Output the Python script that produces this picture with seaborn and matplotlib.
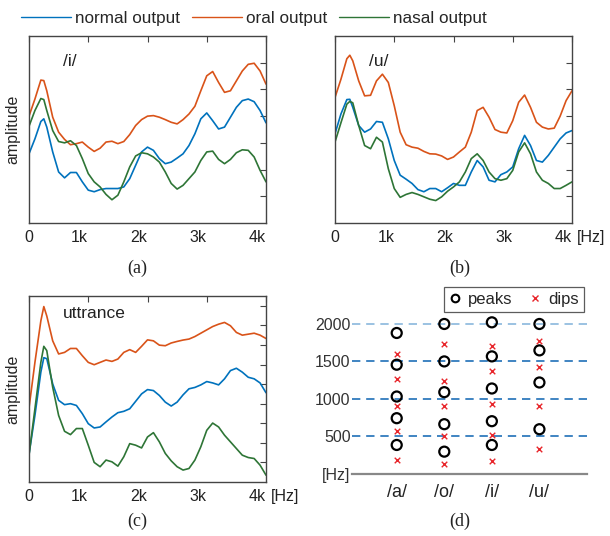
import numpy as np
import pandas as pd
import matplotlib
matplotlib.use("Agg")
import matplotlib.pyplot as plt
from matplotlib.lines import Line2D
import seaborn as sns

sns.set_style("white")
plt.rcParams['font.family'] = ['Liberation Sans', 'DejaVu Sans']

freq = [0, 100, 200, 250, 300, 400, 500, 600, 700, 800, 900, 1000, 1100, 1200, 1300,
        1400, 1500, 1600, 1700, 1800, 1900, 2000, 2100, 2200, 2300, 2400, 2500, 2600,
        2700, 2800, 2900, 3000, 3100, 3200, 3300, 3400, 3500, 3600, 3700, 3800, 3900, 4000]

# panel (a) /i/
i_normal = [2.59, 3.15, 3.80, 3.90, 3.59, 2.66, 1.91, 1.69, 1.89, 1.89, 1.54, 1.23, 1.17, 1.25,
            1.29, 1.29, 1.29, 1.35, 1.66, 2.16, 2.66, 2.84, 2.72, 2.41, 2.22, 2.28, 2.43, 2.59,
            2.90, 3.34, 3.90, 4.12, 3.83, 3.52, 3.59, 3.96, 4.33, 4.58, 4.64, 4.54, 4.21, 3.75]
i_oral = [4.00, 4.64, 5.35, 5.33, 4.95, 3.96, 3.40, 3.13, 2.93, 2.97, 3.03, 2.84, 2.68, 2.80,
          3.03, 3.06, 2.97, 3.05, 3.31, 3.65, 3.87, 4.00, 4.02, 3.96, 3.87, 3.77, 3.71, 3.87,
          4.08, 4.37, 4.95, 5.51, 5.67, 5.26, 4.89, 4.95, 5.32, 5.69, 5.94, 5.98, 5.69, 5.20]
i_nasal = [3.62, 4.21, 4.66, 4.62, 4.21, 3.46, 3.05, 3.00, 3.08, 2.90, 2.41, 1.85, 1.54, 1.35,
           1.07, 0.87, 1.04, 1.54, 2.10, 2.51, 2.63, 2.59, 2.47, 2.28, 1.91, 1.48, 1.27, 1.41,
           1.66, 1.91, 2.34, 2.66, 2.69, 2.38, 2.22, 2.38, 2.63, 2.74, 2.72, 2.47, 1.97, 1.54]

# panel (b) /u/
u_normal = [3.34, 4.08, 4.62, 4.63, 4.33, 3.65, 3.40, 3.52, 3.80, 3.77, 3.15, 2.34, 1.79, 1.64,
            1.48, 1.25, 1.17, 1.29, 1.29, 1.17, 1.32, 1.48, 1.41, 1.41, 1.91, 2.34, 2.10, 1.60,
            1.54, 1.81, 1.91, 2.10, 2.78, 3.28, 2.90, 2.34, 2.28, 2.53, 2.84, 3.15, 3.37, 3.46]
u_oral = [4.70, 5.38, 6.15, 6.28, 6.07, 5.32, 4.76, 4.78, 5.32, 5.57, 5.26, 4.39, 3.40, 2.93,
          2.84, 2.80, 2.68, 2.59, 2.58, 2.51, 2.38, 2.47, 2.66, 2.84, 3.40, 4.21, 4.33, 3.96,
          3.50, 3.40, 3.37, 3.83, 4.52, 4.79, 4.33, 3.77, 3.59, 3.52, 3.55, 4.00, 4.58, 4.95]
u_nasal = [3.03, 3.75, 4.45, 4.55, 4.50, 3.65, 2.90, 2.78, 3.21, 3.03, 2.03, 1.29, 0.96, 1.07,
           1.14, 1.07, 0.98, 0.89, 0.84, 0.98, 1.19, 1.35, 1.54, 1.91, 2.41, 2.59, 2.34, 1.91,
           1.66, 1.60, 1.66, 1.97, 2.66, 3.00, 2.59, 1.91, 1.60, 1.48, 1.29, 1.29, 1.41, 1.54]

# panel (c) utterance
t_normal = [1.41, 3.40, 5.61, 6.35, 6.30, 5.01, 4.17, 3.95, 4.00, 3.91, 3.49, 2.98, 2.76, 2.81,
            3.07, 3.32, 3.54, 3.61, 3.74, 4.12, 4.50, 4.72, 4.67, 4.42, 4.08, 3.88, 4.08, 4.45,
            4.76, 4.83, 4.96, 5.13, 5.06, 4.96, 5.27, 5.69, 5.81, 5.61, 5.35, 5.27, 5.06, 4.56]
t_oral = [3.78, 6.11, 8.23, 8.96, 8.48, 7.21, 6.54, 6.62, 6.82, 6.82, 6.45, 6.11, 5.99, 6.11,
          6.23, 6.16, 6.28, 6.62, 6.76, 6.62, 6.93, 7.26, 7.21, 6.99, 6.96, 7.10, 7.18, 7.25,
          7.30, 7.43, 7.60, 7.77, 7.94, 8.06, 8.15, 7.98, 7.64, 7.50, 7.55, 7.60, 7.50, 7.33]
t_nasal = [1.37, 3.74, 6.11, 6.93, 6.71, 4.84, 3.40, 2.59, 2.42, 2.73, 2.73, 1.88, 1.00, 0.78,
           1.12, 1.03, 0.81, 1.29, 1.96, 1.88, 1.74, 2.30, 2.52, 2.05, 1.46, 1.08, 0.78, 0.61,
           0.69, 1.12, 1.80, 2.64, 3.01, 2.81, 2.39, 2.05, 1.71, 1.37, 1.25, 1.20, 0.86, 0.35]

# panel (d) peaks and dips (Hz)
vowels = ['/a/', '/o/', '/i/', '/u/']
peaks = {'/a/': [1880, 1457, 1033, 744, 387],
         '/o/': [2000, 1501, 1091, 664, 298],
         '/i/': [2022, 1568, 1140, 704, 387],
         '/u/': [2000, 1648, 1220, 597]}
dips = {'/a/': [1604, 1265, 900, 575, 187],
        '/o/': [1737, 1243, 909, 508, 134],
        '/i/': [1710, 1367, 931, 521, 178],
        '/u/': [1768, 1425, 909, 330]}
grid_hz = [500, 1000, 1500, 2000]

names = ['normal output', 'oral output', 'nasal output']
palette = {'normal output': '#0072BD', 'oral output': '#D95319', 'nasal output': '#2E7536'}

fig = plt.figure(figsize=(6.1, 5.36), dpi=100)
W, H = 610.0, 536.0


def add_ax(x0, y0, x1, y1):
    return fig.add_axes([x0 / W, 1 - y1 / H, (x1 - x0) / W, (y1 - y0) / H])


def spectrum(ax, series, ymax, nticks, label, lab_y, hz=False, ylabel=True):
    rows = []
    for name, vals in zip(names, series):
        for f, v in zip(freq, vals):
            rows.append((f, v, name))
    df = pd.DataFrame(rows, columns=['freq', 'amp', 'output'])
    sns.lineplot(data=df, x='freq', y='amp', hue='output', palette=palette,
                 linewidth=1.2, legend=False, ax=ax, estimator=None, sort=False)
    ax.set_xlim(0, 4000)
    ax.set_ylim(0, ymax)
    ax.set_xticks([0, 1000, 2000, 3000, 4000])
    ax.set_xticklabels(['0', '1k', '2k', '3k', '4k'], fontsize=11.5, color='#222222')
    for k, t in enumerate(ax.get_xticklabels()):
        t.set_ha('center' if k == 0 else 'right')
    ax.set_yticks(range(1, nticks + 1))
    ax.set_yticklabels([])
    ax.tick_params(direction='in', length=4, width=0.8, top=True, right=True,
                   color='#444444', pad=5)
    for s in ax.spines.values():
        s.set_color('#444444')
        s.set_linewidth(1.0)
    ax.set_xlabel('')
    if ylabel:
        ax.set_ylabel('amplitude', fontsize=11.5)
        ax.yaxis.set_label_coords(-0.036, 0.5)
    else:
        ax.set_ylabel('')
    ax.text(0.145, lab_y, label, transform=ax.transAxes, fontsize=12.5,
            color='#222222', va='center')
    if hz:
        ax.text(1.021, -0.035, '[Hz]', transform=ax.transAxes, fontsize=11.5,
                color='#222222', ha='left', va='top')


ax_a = add_ax(29, 36, 266, 223)
spectrum(ax_a, [i_normal, i_oral, i_nasal], 7.0, 6, '/i/', 0.862)
ax_b = add_ax(335, 36, 572, 223)
spectrum(ax_b, [u_normal, u_oral, u_nasal], 7.0, 6, '/u/', 0.862, hz=True, ylabel=False)
ax_c = add_ax(29, 296, 266, 482)
spectrum(ax_c, [t_normal, t_oral, t_nasal], 9.5, 9, 'uttrance', 0.905, hz=True)

# panel (d)
ax_d = add_ax(352, 290, 587, 474)
rows = []
for k, v in enumerate(vowels):
    for p in peaks[v]:
        rows.append((k + 1, p, 'peaks'))
    for d in dips[v]:
        rows.append((k + 1, d, 'dips'))
pd_df = pd.DataFrame(rows, columns=['vowel', 'hz', 'kind'])
grid_colors = ['#1f6fb8', '#1f6fb8', '#1f6fb8', '#8ab8dd']
for g, c in zip(grid_hz, grid_colors):
    ax_d.axhline(g, color=c, linestyle=(0, (5, 3.5)), linewidth=1.2, zorder=1)
sns.scatterplot(data=pd_df[pd_df.kind == 'peaks'], x='vowel', y='hz', ax=ax_d,
                marker='o', s=52, facecolor='none', edgecolor='black', linewidth=1.6,
                legend=False, zorder=3)
sns.scatterplot(data=pd_df[pd_df.kind == 'dips'], x='vowel', y='hz', ax=ax_d,
                marker='x', s=16, color='#E8262B', linewidth=1.0, legend=False, zorder=3)
ax_d.set_xlim(0.06, 5.0)
ax_d.set_ylim(0, 2453)
ax_d.set_xticks([1, 2, 3, 4])
ax_d.set_xticklabels(vowels, fontsize=13, color='#222222')
ax_d.set_yticks([0] + grid_hz)
ax_d.set_yticklabels(['[Hz]', '500', '1000', '1500', '2000'], fontsize=11.5, color='#333333')
ax_d.tick_params(axis='y', length=0, pad=1)
ax_d.tick_params(axis='x', direction='in', length=3, color='#888888', pad=7)
for side in ['top', 'right', 'left']:
    ax_d.spines[side].set_visible(False)
ax_d.spines['bottom'].set_color('#888888')
ax_d.spines['bottom'].set_linewidth(1.6)
ax_d.set_xlabel('')
ax_d.set_ylabel('')
d_handles = [Line2D([], [], marker='o', linestyle='none', markerfacecolor='none',
                    markeredgecolor='black', markeredgewidth=1.5, markersize=5.5),
             Line2D([], [], marker='x', linestyle='none', color='#E8262B',
                    markeredgewidth=1.0, markersize=4)]
leg_d = fig.legend(d_handles, ['peaks', 'dips'], loc='upper left', ncol=2,
                   bbox_to_anchor=(444 / W, 1 - 287 / H), borderaxespad=0,
                   fontsize=12, frameon=True, fancybox=False, handletextpad=0.42,
                   columnspacing=1.0, borderpad=0.3, handlelength=0.72)
leg_d.get_frame().set_edgecolor('#333333')
leg_d.get_frame().set_linewidth(0.9)

# top legend
top_handles = [Line2D([], [], color=palette[n], linewidth=1.0) for n in names]
fig.legend(top_handles, names, loc='upper center', ncol=3, frameon=False,
           bbox_to_anchor=(254 / W, 1.008), fontsize=12.3, handlelength=2.9,
           handletextpad=0.25, columnspacing=0.7)

# sub-captions
for lab, x, y in [('(a)', 137, 268), ('(b)', 460, 268), ('(c)', 137, 521), ('(d)', 460, 521)]:
    fig.text(x / W, 1 - y / H, lab, ha='center', va='center', fontsize=13,
             family=['Liberation Serif', 'DejaVu Serif'], color='#222222')

fig.savefig('out.png', dpi=100)
